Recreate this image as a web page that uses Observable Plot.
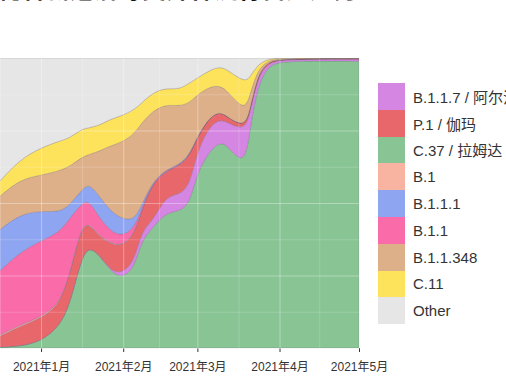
<!DOCTYPE html>
<html><head><meta charset="utf-8">
<script src="https://cdn.jsdelivr.net/npm/d3@7"></script>
<script src="https://cdn.jsdelivr.net/npm/@observablehq/plot@0.6"></script>
<style>
body{margin:0;background:#fff;}
#wrap{position:relative;width:506px;height:380px;overflow:hidden;font-family:"Liberation Sans","Noto Sans CJK SC",sans-serif;}
#title{position:absolute;left:-2px;top:-30px;font-size:24px;font-weight:bold;color:#111;white-space:nowrap;font-family:"Noto Sans CJK SC",sans-serif;}
#chart{position:absolute;left:0;top:0;}
#legend{position:absolute;left:378px;top:83px;}
.row{display:flex;align-items:center;height:26.8px;}
.key{width:27px;height:26.8px;flex:none;}
.lab{margin-left:8px;font-size:15px;color:#333;white-space:nowrap;font-family:"Liberation Sans","Noto Sans CJK SC",sans-serif;}
</style>
</head><body>
<div id="wrap">
  <div id="chart"></div>
  <div id="title">秘鲁新冠病毒变异株流行占比趋势</div>
  <div id="legend"></div>
</div>
<script>
// sample dates
const dates = ["2020-12-16","2020-12-24","2021-01-01","2021-01-08","2021-01-12","2021-01-16","2021-01-19","2021-01-23","2021-01-27","2021-01-31","2021-02-05","2021-02-08","2021-02-12","2021-02-17","2021-02-22","2021-02-26","2021-03-01","2021-03-06","2021-03-10","2021-03-13","2021-03-19","2021-03-21","2021-03-24","2021-03-28","2021-04-01","2021-04-14","2021-05-01"];

// shares (%) per lineage
const C37    = [0.3,0.6,2.3,7.5,15.5,30.5,35.1,32.2,27.0,24.1,27.0,37.4,41.4,46.6,47.1,49.4,60.9,68.4,71.3,69.0,62.6,76.4,91.4,97.4,98.7,99.0,98.9];
const B117   = [0,0,0,0,0,0,0,0,0.2,1.5,2.3,3.4,2.3,5.7,5.7,6.3,7.5,8.6,7.7,8.4,12.4,5.2,2.9,0.9,0.6,0.6,0.7];
const P1     = [3.6,6.9,8.0,7.5,10.3,10.9,8.0,6.3,9.2,9.4,9.2,6.9,13.2,8.6,9.8,10.3,4.6,3.1,2.5,1.8,1.1,1.1,0.8,0.5,0.2,0.2,0.2];
const B1     = [0.4,0.4,0.4,0.3,0.3,0.3,0.2,0.2,0.2,0.2,0.2,0.1,0.1,0.1,0.1,0,0,0,0,0,0,0,0,0,0,0,0];
const B11    = [22.1,25.3,26.4,24.7,19.0,8.0,8.0,6.3,4.3,3.4,2.3,0.6,0.2,0.2,0.2,0.2,0.1,0,0,0,0,0,0,0,0,0,0];
const B111   = [14.3,13.2,10.3,6.9,4.6,4.6,5.7,7.5,6.9,6.3,2.9,1.1,0.3,0.2,0.2,0.2,0.1,0,0,0,0,0,0,0,0,0,0];
const B11348 = [11.5,12.1,12.3,14.4,13.2,11.5,9.8,15.5,22.4,25.9,29.9,28.2,24.5,22.5,20.2,17.9,14.4,10.1,9.0,8.7,5.4,5.2,1.5,0.5,0.2,0.1,0.1];
const C11    = [5.2,6.9,9.5,10.3,9.8,9.8,9.2,8.9,9.2,9.2,8.4,6.9,6.3,5.7,5.7,6.9,5.7,5.7,6.7,7.5,10.0,5.7,1.5,0.5,0.2,0.1,0.1];
const Other  = [43.1,35.1,31.0,28.7,27.6,24.7,24.1,23.3,21.3,20.1,18.0,15.5,12.1,10.3,10.9,8.6,6.9,4.0,2.9,4.6,8.4,6.3,2.0,0.3,0.1,0,0];

// legend order & colours
const legendNames = ["B.1.1.7 / 阿尔法","P.1 / 伽玛","C.37 / 拉姆达","B.1","B.1.1.1","B.1.1","B.1.1.348","C.11","Other"];
const legendColors = ["#d585e2","#e8676b","#88c494","#f8b3a1","#8ea6f2","#f96ba9","#deb08a","#fde25c","#e6e6e6"];
// stacking order bottom -> top
const stackOrder = ["C.37 / 拉姆达","B.1.1.7 / 阿尔法","P.1 / 伽玛","B.1","B.1.1","B.1.1.1","B.1.1.348","C.11","Other"];
const seriesValues = {"C.37 / 拉姆达":C37,"B.1.1.7 / 阿尔法":B117,"P.1 / 伽玛":P1,"B.1":B1,"B.1.1":B11,"B.1.1.1":B111,"B.1.1.348":B11348,"C.11":C11,"Other":Other};

const monthTicks = ["2021-01-01","2021-02-01","2021-03-01","2021-04-01","2021-05-01"].map(d => new Date(d));
const minorTicks = ["2020-12-16T12:00","2021-01-16T12:00","2021-02-14T12:00","2021-03-16T12:00","2021-04-16"].map(d => new Date(d + "Z"));

const data = [];
for (const s of stackOrder) {
  seriesValues[s].forEach((v, i) => data.push({date: new Date(dates[i]), series: s, value: v}));
}

const chart = Plot.plot({
  width: 506, height: 380,
  marginTop: 58, marginBottom: 32, marginLeft: 0, marginRight: 147,
  style: {background: "transparent", fontSize: "12px", fontFamily: "'Liberation Sans','Noto Sans CJK SC',sans-serif", color: "#333", overflow: "hidden"},
  x: {type: "utc", domain: [new Date("2020-12-16T12:00Z"), new Date("2021-05-01")], ticks: monthTicks,
      tickFormat: d => `${d.getUTCFullYear()}年${d.getUTCMonth() + 1}月`, tickSize: 4, tickPadding: 10, label: null},
  y: {domain: [0, 1], axis: null},
  color: {domain: legendNames, range: legendColors},
  marks: [
    Plot.frame({fill: "#ebebeb", stroke: null}),
    Plot.areaY(data, {x: "date", y: "value", z: "series", fill: "series", order: stackOrder, offset: "normalize",
      curve: "basis", clip: true, stroke: "#6a5a78", strokeOpacity: 0.3, strokeWidth: 0.8}),
    Plot.ruleX(monthTicks, {stroke: "white", strokeOpacity: 0.35, strokeWidth: 1}),
    Plot.ruleX(minorTicks, {stroke: "white", strokeOpacity: 0.3, strokeWidth: 0.6}),
    Plot.ruleY([0.25, 0.5, 0.75], {stroke: "white", strokeOpacity: 0.35, strokeWidth: 1}),
    Plot.ruleY([0.125, 0.375, 0.625, 0.875], {stroke: "white", strokeOpacity: 0.3, strokeWidth: 0.6})
  ]
});
document.getElementById("chart").appendChild(chart);

const leg = document.getElementById("legend");
legendNames.forEach((n, i) => {
  const row = document.createElement("div");
  row.className = "row";
  row.innerHTML = `<div class="key" style="background:${legendColors[i]}"></div><div class="lab">${n}</div>`;
  leg.appendChild(row);
});
</script>
</body></html>
